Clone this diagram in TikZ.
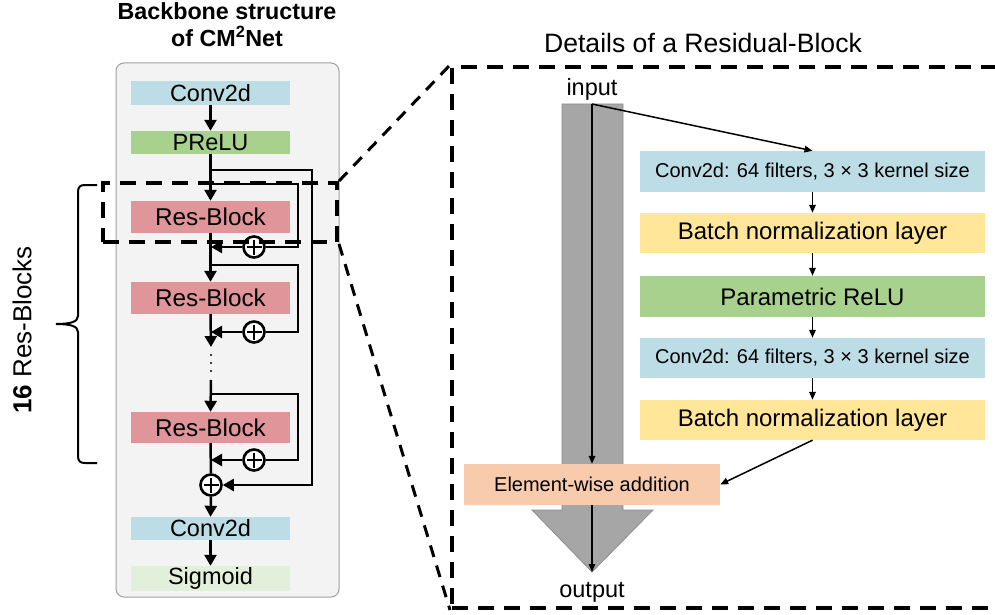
\documentclass[tikz,border=0pt]{standalone}
\usepackage{fontspec}
\setmainfont{Liberation Sans}
\usetikzlibrary{arrows.meta,calc}
\definecolor{panelgray}{HTML}{F3F3F3}
\definecolor{panelline}{HTML}{A0A0A0}
\definecolor{convblue}{HTML}{BCDDE5}
\definecolor{relugreen}{HTML}{A9D18E}
\definecolor{resred}{HTML}{E0959A}
\definecolor{sigmgreen}{HTML}{E2EFDA}
\definecolor{bnyellow}{HTML}{FFE699}
\definecolor{addorange}{HTML}{F8CBAD}
\definecolor{arrowgray}{HTML}{A6A6A6}
\definecolor{arrowedge}{HTML}{8C8C8C}
\newcommand{\fs}[1]{\fontsize{#1}{#1}\selectfont}
\begin{document}
\begin{tikzpicture}[x=1pt,y=-1pt,
  lbox/.style={rectangle, inner sep=0pt, minimum width=159pt, font=\fs{23.5}},
  rbox/.style={rectangle, inner sep=0pt, minimum width=345pt, minimum height=40pt},
  thick line/.style={line width=2.5pt},
  thick arrow/.style={line width=2.5pt, -{Triangle[length=11pt,width=12pt]}},
  thin arrow/.style={line width=1.5pt, -{Triangle[length=8pt,width=6.5pt]}},
  plusnode/.style={circle, draw, line width=2.6pt, fill=white, minimum size=21pt, inner sep=0pt,
    path picture={\draw[line width=2.4pt]
      ([xshift=-7.5pt]path picture bounding box.center) -- ([xshift=7.5pt]path picture bounding box.center)
      ([yshift=-7.5pt]path picture bounding box.center) -- ([yshift=7.5pt]path picture bounding box.center);}},
  bigdash/.style={line width=4pt, dash pattern=on 16pt off 10pt},
  linkdash/.style={line width=3pt, dash pattern=on 12pt off 9pt}
]
\useasboundingbox (0,0) rectangle (995,615);

% ---------- left panel ----------
\node[anchor=base, font=\bfseries\fs{23.3}] (ttl1) at (227,20) {Backbone structure};
\node[anchor=base, font=\bfseries\fs{23.3}] (ttl2) at (227,47) {of CM\textsuperscript{2}Net};

\draw[panelline, fill=panelgray, line width=1pt, rounded corners=8pt] (116,63) rectangle (339,597);

\node[lbox, fill=convblue, minimum height=24pt] (conv1) at (210.5,93) {Conv2d};
\node[lbox, fill=relugreen, minimum height=23pt] (prelu) at (210.5,142.5) {PReLU};
\node[lbox, fill=resred, minimum height=32pt, font=\fs{24.3}] (res1) at (210.5,217) {Res-Block};
\node[lbox, fill=resred, minimum height=32pt, font=\fs{24.3}] (res2) at (210.5,298) {Res-Block};
\node[lbox, fill=resred, minimum height=31pt, font=\fs{24.3}] (res3) at (210.5,427.5) {Res-Block};
\node[lbox, fill=convblue, minimum height=23pt] (conv2) at (210.5,528.5) {Conv2d};
\node[lbox, fill=sigmgreen, minimum height=25pt] (sigm) at (210.5,578.5) {Sigmoid};

\node[plusnode] (p1) at (254,247) {};
\node[plusnode] (p2) at (254,332) {};
\node[plusnode] (p3) at (254,460) {};
\node[plusnode] (pb) at (211,485) {};

\coordinate (b0) at (211,170);
\coordinate (b1) at (211,184);
\coordinate (b2) at (211,265);
\coordinate (b3) at (211,394);
\coordinate (j1) at (211,247);
\coordinate (j2) at (211,332);
\coordinate (j3) at (211,460);
\coordinate (dtop) at (211,347);
\coordinate (dbot) at (211,380);

\draw[thick arrow] (conv1.south) -- (prelu.north);
\draw[thick arrow] (prelu.south) -- (res1.north);
\draw[thick arrow] (res1.south) -- (res2.north);
\draw[thick arrow] (res2.south) -- (dtop);
\foreach \yy in {355,363,371} \fill (211,\yy) circle (1.2pt);
\draw[thick arrow] (dbot) -- (res3.north);
\draw[thick line] (res3.south) -- (pb.north);
\draw[thick arrow] (pb.south) -- (conv2.north);
\draw[thick arrow] (conv2.south) -- (sigm.north);

\draw[thick arrow] (b0) -| (312,485) -- (pb.east);
\draw[thick line] (b1) -| (298,247) -- (p1.east);
\draw[thick line] (b2) -| (298,332) -- (p2.east);
\draw[thick line] (b3) -| (298,460) -- (p3.east);
\draw[thick arrow] (p1.west) -- (j1);
\draw[thick arrow] (p2.west) -- (j2);
\draw[thick arrow] (p3.west) -- (j3);

% brace and label
\draw[line width=2pt] (97,185) -- (85,185) .. controls (80,185) and (78,187) .. (78,192) -- (78,316)
  .. controls (78,322) and (70,324) .. (56,324) .. controls (70,324) and (78,326) .. (78,332)
  -- (78,456) .. controls (78,461) and (80,463) .. (85,463) -- (97,463);
\node[rotate=90, font=\fs{26}] (lbl) at (22,330) {\textbf{16} Res-Blocks};

% zoom frames
\node[draw, bigdash, rectangle, inner sep=0pt, minimum width=234pt, minimum height=59pt] (zsrc) at (220,212.5) {};
\node[draw, bigdash, rectangle, inner sep=0pt, minimum width=548pt, minimum height=541pt] (zdst) at (726,337.5) {};
\draw[linkdash] (zsrc.north east) -- (zdst.north west);
\draw[linkdash] (zsrc.south east) -- (zdst.south west);

% ---------- right panel ----------
\node[anchor=base, font=\fs{26.6}] (ttlr) at (703,53) {Details of a Residual-Block};

\coordinate (intop) at (592,104);
\coordinate (outtip) at (592,572);
\draw[arrowedge, fill=arrowgray, line width=0.8pt] (562,104) -- (623,104) -- (623,510) -- (653,510)
  -- (outtip) -- (532,510) -- (562,510) -- cycle;

\node[anchor=base, font=\fs{23.5}] (inlbl) at (592,96) {input};
\node[anchor=base, font=\fs{23.5}] (outlbl) at (592,597) {output};

\node[rbox, fill=convblue, minimum height=41pt, font=\fs{20}] (c1) at (812.5,171.5) {Conv2d: 64 filters, 3 × 3 kernel size};
\node[rbox, fill=bnyellow, font=\fs{24}] (n1) at (812.5,233) {Batch normalization layer};
\node[rbox, fill=relugreen, minimum height=41pt, font=\fs{24}] (pr) at (812.5,296.5) {Parametric ReLU};
\node[rbox, fill=convblue, font=\fs{20}] (c2) at (812.5,358) {Conv2d: 64 filters, 3 × 3 kernel size};
\node[rbox, fill=bnyellow, font=\fs{24}] (n2) at (812.5,420) {Batch normalization layer};
\node[rectangle, inner sep=0pt, fill=addorange, minimum width=256pt, minimum height=41pt, font=\fs{20}] (add) at (592,484.5) {Element-wise addition};

\draw[thin arrow] (intop) -- (add.north);
\draw[thin arrow] (add.south) -- (outtip);
\draw[thin arrow] (intop) -- (c1.north);
\draw[thin arrow] (c1.south) -- (n1.north);
\draw[thin arrow] (n1.south) -- (pr.north);
\draw[thin arrow] (pr.south) -- (c2.north);
\draw[thin arrow] (c2.south) -- (n2.north);
\draw[thin arrow] (n2.south) -- (add.east);
\end{tikzpicture}
\end{document}
